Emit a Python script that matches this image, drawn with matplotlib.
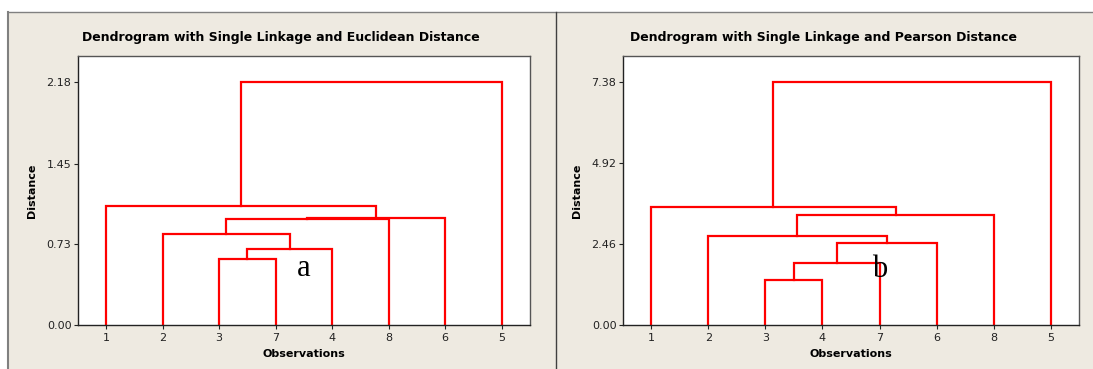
import matplotlib
matplotlib.use('Agg')
from matplotlib import pyplot as plt
from matplotlib.patches import Rectangle
from matplotlib.lines import Line2D

# leaf order along the x axis
euc_leaves = [1, 2, 3, 7, 4, 8, 6, 5]
# merges: (child a, child b, height); clusters numbered 9, 10, ... in order
euc_merges = [
    (3, 7, 0.594),
    (9, 4, 0.680),
    (2, 10, 0.818),
    (11, 8, 0.952),
    (12, 6, 0.963),
    (1, 13, 1.065),
    (14, 5, 2.18),
]
euc_ticks = [0.0, 0.73, 1.45, 2.18]

pear_leaves = [1, 2, 3, 4, 7, 6, 8, 5]
pear_merges = [
    (3, 4, 1.36),
    (9, 7, 1.89),
    (10, 6, 2.48),
    (2, 11, 2.70),
    (12, 8, 3.34),
    (1, 13, 3.57),
    (14, 5, 7.38),
]
pear_ticks = [0.0, 2.46, 4.92, 7.38]

W, H = 1093, 369
BEIGE = '#EEEAE1'
RED = '#FF0000'


def draw_dendrogram(ax, leaves, merges):
    pos = {leaf: i + 1 for i, leaf in enumerate(leaves)}
    hgt = {leaf: 0.0 for leaf in leaves}
    nid = len(leaves) + 1
    for a, b, h in merges:
        xa, xb = pos[a], pos[b]
        ax.plot([xa, xa, xb, xb], [hgt[a], h, h, hgt[b]],
                color=RED, lw=1.6, solid_joinstyle='miter')
        pos[nid] = (xa + xb) / 2.0
        hgt[nid] = h
        nid += 1


def style_axes(ax, leaves, ticks, top, title, panel_cx):
    ax.set_xlim(0.5, 8.5)
    ax.set_ylim(0, top)
    ax.set_xticks(range(1, len(leaves) + 1))
    ax.set_xticklabels([str(l) for l in leaves])
    ax.set_yticks(ticks)
    ax.set_yticklabels(['%.2f' % t for t in ticks])
    ax.tick_params(direction='out', length=3, width=0.8, labelsize=8,
                   colors='#222222', pad=1.5)
    ax.tick_params(axis='x', pad=2.5)
    for s in ax.spines.values():
        s.set_color('#555555')
        s.set_linewidth(1.0)
    ax.spines['left'].set_color('#222222')
    ax.spines['bottom'].set_color('#222222')
    ax.set_xlabel('Observations', fontsize=8, fontweight='bold', labelpad=4.5)
    ax.set_ylabel('Distance', fontsize=8, fontweight='bold', labelpad=7)
    fig.text(panel_cx / W, 1 - 38.0 / H, title, ha='center', va='center',
             fontsize=9, fontweight='bold')


fig = plt.figure(figsize=(W / 100, H / 100), dpi=100)
fig.patch.set_facecolor('white')

# beige panel background with frame lines
fig.patches.append(Rectangle((7.7 / W, 0), 1 - 7.7 / W, 1 - 12.3 / H,
                             transform=fig.transFigure, facecolor=BEIGE,
                             edgecolor='none', zorder=-5))
fig.lines.append(Line2D([7.7 / W, 1], [1 - 12.3 / H] * 2,
                        transform=fig.transFigure, color='#808080', lw=1.0))
fig.lines.append(Line2D([7.7 / W] * 2, [0, 1 - 12.3 / H],
                        transform=fig.transFigure, color='#808080', lw=1.5))
fig.lines.append(Line2D([555.5 / W] * 2, [0, 1 - 12.3 / H],
                        transform=fig.transFigure, color='#404040', lw=1.0))

bottom = (H - 325) / H
height = (325 - 55.7) / H
ax1 = fig.add_axes([77.7 / W, bottom, (530 - 77.7) / W, height])
ax2 = fig.add_axes([622.7 / W, bottom, (1079.3 - 622.7) / W, height])

draw_dendrogram(ax1, euc_leaves, euc_merges)
style_axes(ax1, euc_leaves, euc_ticks, 2.42,
           'Dendrogram with Single Linkage and Euclidean Distance', 281)
ax1.text(4.5, 0.44, 'a', ha='center', va='baseline', fontsize=22,
         family='Liberation Serif')

draw_dendrogram(ax2, pear_leaves, pear_merges)
style_axes(ax2, pear_leaves, pear_ticks, 8.18,
           'Dendrogram with Single Linkage and Pearson Distance', 824)
ax2.text(5.0, 1.47, 'b', ha='center', va='baseline', fontsize=22,
         family='Liberation Serif')

fig.savefig('out.png', dpi=100, facecolor=fig.get_facecolor())
